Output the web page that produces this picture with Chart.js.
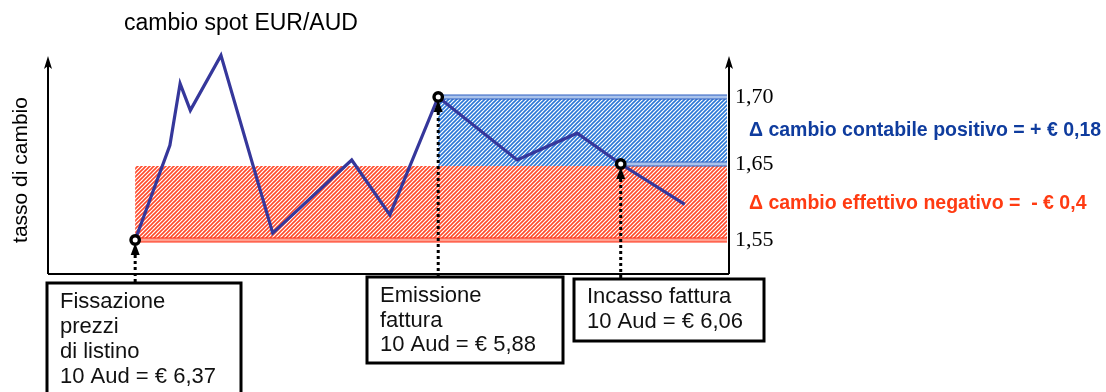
<!DOCTYPE html>
<html>
<head>
<meta charset="utf-8">
<script src="https://cdn.jsdelivr.net/npm/chart.js@4.4.1/dist/chart.umd.min.js"></script>
<style>
body{margin:0;background:#fff}
#wrap{width:1106px;height:392px}
</style>
</head>
<body>
<div id="wrap"><canvas id="myChart"></canvas></div>
<script>
// time (arbitrary units) and spot rate EUR/AUD
var timeList = [12.8, 17.9, 19.4, 20.9, 25.4, 33.0, 44.6, 50.2, 57.3, 68.9, 77.7, 84.1, 93.5];
var rateList = [1.55, 1.664, 1.710, 1.690, 1.731, 1.559, 1.653, 1.583, 1.70, 1.653, 1.673, 1.65, 1.597];
var tickValues = [1.55, 1.65, 1.70];
var tickLabels = ['1,55', '1,65', '1,70'];
// points where something happens: fixing, invoice, payment
var eventIndex = [0, 8, 11];
var eventLines = [
  ['Fissazione', 'prezzi', 'di listino', '10 Aud = € 6,37'],
  ['Emissione', 'fattura', '10 Aud = € 5,88'],
  ['Incasso fattura', '10 Aud = € 6,06']
];
var deltaLabels = ['Δ cambio contabile positivo = + € 0,18', 'Δ cambio effettivo negativo =  - € 0,4'];

// the drawing is not to scale, so a piecewise linear y scale
class StepScale extends Chart.LinearScale {
  getPixelForValue(value) {
    var b = this.options.breaks, i = 1;
    while (i < b.length - 1 && value > b[i][0]) i++;
    var d = b[i-1][1] + (value - b[i-1][0]) / (b[i][0] - b[i-1][0]) * (b[i][1] - b[i-1][1]);
    return this.getPixelForDecimal(d);
  }
  getValueForPixel(pixel) {
    var b = this.options.breaks, d = this.getDecimalForPixel(pixel), i = 1;
    while (i < b.length - 1 && d > b[i][1]) i++;
    return b[i-1][0] + (d - b[i-1][1]) / (b[i][1] - b[i-1][1]) * (b[i][0] - b[i-1][0]);
  }
}
StepScale.id = 'step';
StepScale.defaults = Chart.LinearScale.defaults;
Chart.register(StepScale);

function makeHatch(color) {
  var c = document.createElement('canvas');
  c.width = 4; c.height = 4;
  var g = c.getContext('2d');
  g.strokeStyle = color;
  g.lineWidth = 1.6;
  g.beginPath();
  g.moveTo(-1, 5); g.lineTo(5, -1);
  g.moveTo(-1, 1); g.lineTo(1, -1);
  g.moveTo(3, 5); g.lineTo(5, 3);
  g.stroke();
  return g.createPattern(c, 'repeat');
}

function band(ctx, x1, x2, y, fill, edge) {
  ctx.fillStyle = fill;
  ctx.fillRect(x1, y - 2, x2 - x1, 4);
  ctx.strokeStyle = edge;
  ctx.lineWidth = 1.2;
  ctx.beginPath();
  ctx.moveTo(x1, y - 2); ctx.lineTo(x2, y - 2);
  ctx.moveTo(x1, y + 2); ctx.lineTo(x2, y + 2);
  ctx.stroke();
}

function arrowAxis(ctx, x, top, bottom) {
  ctx.strokeStyle = '#000';
  ctx.lineWidth = 2;
  ctx.beginPath();
  ctx.moveTo(x, bottom); ctx.lineTo(x, top + 6);
  ctx.stroke();
  ctx.fillStyle = '#000';
  ctx.beginPath();
  ctx.moveTo(x, top); ctx.lineTo(x - 4, top + 13); ctx.lineTo(x, top + 10); ctx.lineTo(x + 4, top + 13);
  ctx.closePath();
  ctx.fill();
}

var boxes = [
  {x: 47, y: 283, w: 194, h: 120, tx: 60, ty: 302, lh: 25},
  {x: 367, y: 277, w: 196, h: 86, tx: 380, ty: 296, lh: 24.5},
  {x: 574, y: 279, w: 190, h: 62, tx: 587, ty: 297, lh: 24.5}
];

var diagram = {
  id: 'diagram',
  beforeDatasetsDraw: function(chart) {
    var ctx = chart.ctx, a = chart.chartArea;
    var xs = chart.scales.x, ys = chart.scales.y;
    var xFix = xs.getPixelForValue(timeList[eventIndex[0]]);
    var xEm = xs.getPixelForValue(timeList[eventIndex[1]]);
    var xInc = xs.getPixelForValue(timeList[eventIndex[2]]);
    var yFix = ys.getPixelForValue(rateList[eventIndex[0]]);
    var yEm = ys.getPixelForValue(rateList[eventIndex[1]]);
    var yInc = ys.getPixelForValue(rateList[eventIndex[2]]);
    var right = a.right - 2;
    ctx.save();
    ctx.fillStyle = makeHatch('#ff4a2a');
    ctx.fillRect(xFix, yInc + 2, right - xFix, yFix - yInc - 2);
    ctx.fillStyle = makeHatch('#2b78d6');
    ctx.fillRect(xEm, yEm, right - xEm, yInc + 2 - yEm);
    band(ctx, xFix, right, yFix, '#ffa090', '#ff2a10');
    band(ctx, xEm, right, yEm, '#a9c3ec', '#2f5fbf');
    band(ctx, xInc, right, yInc, '#a9c3ec', '#2f5fbf');
    // axes
    ctx.strokeStyle = '#000';
    ctx.lineWidth = 2;
    ctx.beginPath();
    ctx.moveTo(a.left, a.bottom); ctx.lineTo(a.right, a.bottom);
    ctx.stroke();
    arrowAxis(ctx, a.left, a.top - 1, a.bottom);
    arrowAxis(ctx, a.right, a.top - 1, a.bottom);
    ctx.restore();
  },
  afterDatasetsDraw: function(chart) {
    var ctx = chart.ctx, a = chart.chartArea;
    var meta = chart.getDatasetMeta(0);
    ctx.save();
    // dotted lines and markers
    eventIndex.forEach(function(idx, k) {
      var p = meta.data[idx];
      ctx.strokeStyle = '#000';
      ctx.lineWidth = 3;
      ctx.setLineDash([3, 3]);
      ctx.beginPath();
      ctx.moveTo(p.x, p.y + 15); ctx.lineTo(p.x, boxes[k].y);
      ctx.stroke();
      ctx.setLineDash([]);
      ctx.fillStyle = '#000';
      ctx.beginPath();
      ctx.moveTo(p.x, p.y + 3); ctx.lineTo(p.x - 4.5, p.y + 15); ctx.lineTo(p.x + 4.5, p.y + 15);
      ctx.closePath();
      ctx.fill();
      ctx.beginPath();
      ctx.arc(p.x, p.y, 4.2, 0, Math.PI * 2);
      ctx.fillStyle = '#fff';
      ctx.fill();
      ctx.lineWidth = 3.4;
      ctx.stroke();
    });
    // boxes
    ctx.font = '22px "Liberation Sans", Arial, sans-serif';
    ctx.textBaseline = 'middle';
    ctx.textAlign = 'left';
    boxes.forEach(function(b, k) {
      ctx.lineWidth = 3;
      ctx.strokeStyle = '#000';
      ctx.fillStyle = '#fff';
      ctx.fillRect(b.x, b.y, b.w, b.h);
      ctx.strokeRect(b.x, b.y, b.w, b.h);
      ctx.fillStyle = '#111';
      eventLines[k].forEach(function(t, j) {
        ctx.fillText(t, b.tx, b.ty + j * b.lh);
      });
    });
    // tick labels on the right axis
    var ys = chart.scales.y;
    ctx.font = '22px "Liberation Serif", "Times New Roman", serif';
    ctx.fillStyle = '#000';
    tickValues.forEach(function(v, i) {
      ctx.fillText(tickLabels[i], a.right + 6, ys.getPixelForValue(v));
    });
    // deltas
    ctx.font = 'bold 19.5px "Liberation Sans", Arial, sans-serif';
    ctx.fillStyle = '#0f3c9e';
    ctx.fillText(deltaLabels[0], 749, 131);
    ctx.fillStyle = '#ff3b12';
    ctx.fillText(deltaLabels[1], 749, 204);
    // title and y label
    ctx.font = '23px "Liberation Sans", Arial, sans-serif';
    ctx.fillStyle = '#000';
    ctx.fillText('cambio spot EUR/AUD', 124, 24);
    ctx.font = '21px "Liberation Sans", Arial, sans-serif';
    ctx.translate(21, 170);
    ctx.rotate(-Math.PI / 2);
    ctx.textAlign = 'center';
    ctx.fillText('tasso di cambio', 0, 0);
    ctx.restore();
  }
};

var points = timeList.map(function(t, i) { return {x: t, y: rateList[i]}; });

var ctx = document.getElementById('myChart').getContext('2d');
var chart = new Chart(ctx, {
  type: 'line',
  data: {
    datasets: [{
      label: 'cambio spot EUR/AUD',
      data: points,
      borderColor: '#35379b',
      borderWidth: 3.2,
      pointRadius: 0,
      tension: 0,
      clip: false
    }]
  },
  options: {
    responsive: true,
    maintainAspectRatio: false,
    animation: false,
    events: [],
    layout: {padding: {left: 48, right: 377, top: 57, bottom: 118}},
    plugins: {legend: {display: false}, tooltip: {enabled: false}},
    scales: {
      x: {type: 'linear', min: 0, max: 100, display: false},
      y: {
        type: 'step', min: 1.5053, max: 1.7298, display: false,
        breaks: [[1.5053, 0], [1.55, 0.1567], [1.65, 0.5069], [1.70, 0.8157], [1.7298, 1]]
      }
    }
  },
  plugins: [diagram]
});
</script>
</body>
</html>
